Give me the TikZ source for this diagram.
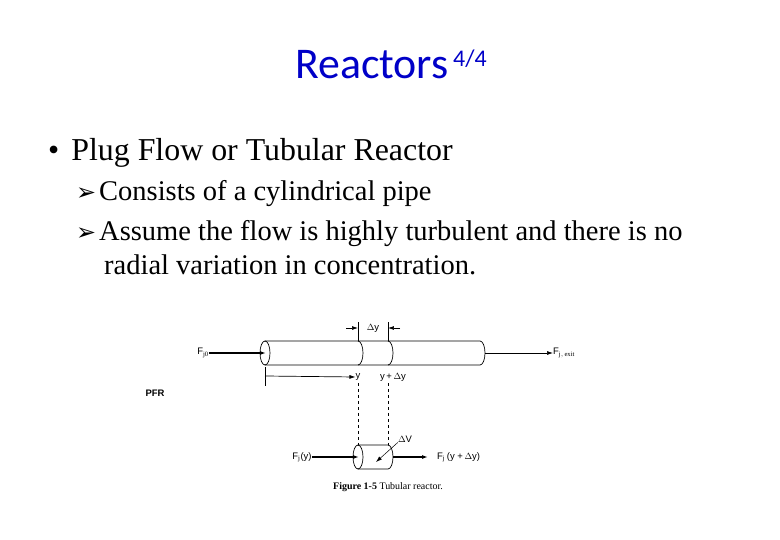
\documentclass[tikz,border=0pt]{standalone}
\usepackage{fontspec}
\setmainfont{Liberation Serif}
\newfontfamily\calib{Carlito}
\newfontfamily\hsans{Liberation Sans}
\newfontfamily\dv{DejaVu Sans}
\usetikzlibrary{arrows.meta}
\definecolor{ttl}{RGB}{0,0,200}
\begin{document}
\begin{tikzpicture}[x=1bp,y=-1bp,
  lbl/.style={font=\hsans\fontsize{9.5}{11}\selectfont,inner sep=0pt},
  ln/.style={line width=0.7pt},
  arr/.style={ln,-{Latex[length=6pt,width=4pt]}},
  body/.style={font=\fontsize{28.6}{32}\selectfont,anchor=base west,inner sep=0pt}]
\useasboundingbox[fill=white] (0,0) rectangle (780,540);
\node[font=\calib\fontsize{44}{46}\selectfont,anchor=base west,text=ttl,inner sep=0pt] (title) at (295,79) {Reactors};
\node[font=\calib\fontsize{24}{26}\selectfont,anchor=base west,text=ttl,inner sep=0pt] (sup) at (453,67) {4/4};
\node[body,font=\fontsize{32}{34}\selectfont] (b1) at (48,161) {•\hspace{12pt}Plug Flow or Tubular Reactor};
\node[body] (s1) at (76,201) {{\dv\fontsize{24}{26}\selectfont ➢}\hspace{3pt}Consists of a cylindrical pipe};
\node[body] (s2) at (76,241) {{\dv\fontsize{24}{26}\selectfont ➢}\hspace{3pt}Assume the flow is highly turbulent and there is no};
\node[body] (s3) at (104,275) {radial variation in concentration.};
% main pipe
\draw[ln] (265,341) -- (480,341) arc[start angle=-90,end angle=90,x radius=5,y radius=12] -- (265,365);
\draw[ln] (265,353) ellipse[x radius=5,y radius=12];
\draw[ln] (358,341) arc[start angle=-90,end angle=90,x radius=5,y radius=12];
\draw[ln] (388,341) arc[start angle=-90,end angle=90,x radius=5,y radius=12];
\node[lbl] (fj0) at (203,353) {F$_{\mathrm{j0}}$};
\coordinate (pin) at (266,353);
\draw[arr,line width=1.2pt] (fj0.east) -- (pin);
\coordinate (pout) at (485,353);
\node[lbl,anchor=west] (fex) at (553,353) {F$_{\mathrm{j,\,exit}}$};
\draw[arr] (pout) -- (fex.west);
% delta y
\coordinate (d1t) at (358,322); \coordinate (d1b) at (358,341);
\coordinate (d2t) at (388,322); \coordinate (d2b) at (388,341);
\draw[ln] (d1t) -- (d1b); \draw[ln] (d2t) -- (d2b);
\coordinate (a1) at (346,328); \coordinate (a2) at (400,328);
\draw[arr] (a1) -- (358,328);
\draw[arr] (a2) -- (388,328);
\node[lbl] (dy) at (373,328) {$\Delta$y};
% y axis
\coordinate (t1) at (265,367); \coordinate (t2) at (265,386);
\draw[ln] (t1) -- (t2);
\node[lbl] (ly) at (358,377) {y};
\draw[arr] (265,376) -- (ly.west);
\node[lbl] (lyd) at (393,377) {y\,+\,$\Delta$y};
% dashed
\coordinate (e1) at (358,383); \coordinate (e2) at (388,383);
\draw[ln,dashed] (e1) -- (358,445);
\draw[ln,dashed] (e2) -- (388,445);
\node[lbl] (pfr) at (155,393) {\bfseries PFR};
% small cylinder
\draw[ln] (358,445) -- (388,445) arc[start angle=-90,end angle=90,x radius=5,y radius=12] -- (358,469);
\draw[ln] (358,457) ellipse[x radius=5,y radius=12];
\node[lbl] (fy) at (302,457) {F$_{\mathrm{j}}$(y)};
\draw[arr,line width=1.2pt] (fy.east) -- (359,457);
\node[lbl,anchor=west] (fyd) at (437,457) {F$_{\mathrm{j}}$\,(y\;+\,$\Delta$y)};
\draw[arr,line width=1.2pt] (393,457) -- (428,457);
\node[lbl] (dv) at (405,439) {$\Delta$V};
\coordinate (dvin) at (376,462);
\draw[arr,line width=0.5pt] (dv.south west) -- (dvin);
\node[font=\fontsize{10}{11}\selectfont] (cap) at (388,487) {\textbf{Figure 1-5} Tubular reactor.};
\end{tikzpicture}
\end{document}
